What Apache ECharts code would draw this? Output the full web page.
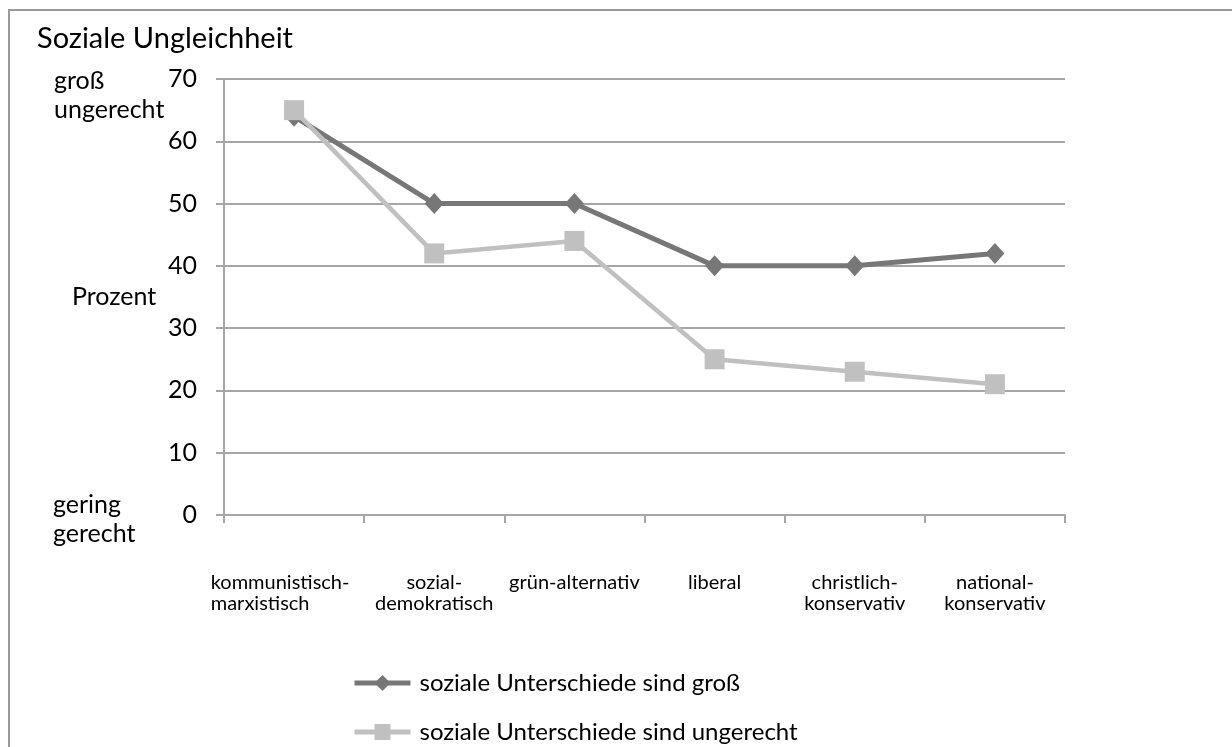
<!DOCTYPE html>
<html>
<head>
<meta charset="utf-8">
<script src="https://cdn.jsdelivr.net/npm/echarts@6/dist/echarts.min.js"></script>
<style>
html,body{margin:0;padding:0;background:#fff;}
#c{width:1232px;height:747px;}
</style>
</head>
<body>
<div id="c"></div>
<script>
const categories = ['kommunistisch-\nmarxistisch','sozial-\ndemokratisch','grün-alternativ','liberal','christlich-\nkonservativ','national-\nkonservativ'];
const seriesNames = ['soziale Unterschiede sind groß','soziale Unterschiede sind ungerecht'];
const grossValues = [64, 50, 50, 40, 40, 42];
const ungerechtValues = [65, 42, 44, 25, 23, 21];
const yTicks = [0, 10, 20, 30, 40, 50, 60, 70];

const FONT = 'Lato, "Open Sans", sans-serif';
const legendBase = {
  orient: 'horizontal',
  left: 352,
  padding: 0,
  itemWidth: 56,
  itemHeight: 20,
  lineStyle: {width: 5},
  textStyle: {fontSize: 24, color: '#000', fontFamily: FONT, padding: [0, 0, 0, 4]}
};
const chart = echarts.init(document.getElementById('c'));
chart.setOption({
  backgroundColor: '#fff',
  animation: false,
  textStyle: {fontFamily: FONT},
  grid: {left: 224, right: 167, top: 79, bottom: 232},
  graphic: [
    {type: 'rect', shape: {x: 9, y: 10, width: 1400, height: 1000}, style: {fill: 'none', stroke: '#9a9a9a', lineWidth: 2}, silent: true},
    {type: 'text', left: 37, top: 24, style: {text: 'Soziale Ungleichheit', font: '29px ' + FONT, fill: '#000'}},
    {type: 'text', left: 54, top: 66, style: {text: 'groß\nungerecht', font: '25px ' + FONT, lineHeight: 29, fill: '#000'}},
    {type: 'text', left: 72, top: 284, style: {text: 'Prozent', font: '25px ' + FONT, fill: '#000'}},
    {type: 'text', left: 53, top: 490, style: {text: 'gering\ngerecht', font: '25px ' + FONT, lineHeight: 29, fill: '#000'}}
  ],
  legend: [
    Object.assign({}, legendBase, {top: 671, data: [seriesNames[0]]}),
    Object.assign({}, legendBase, {top: 720, data: [seriesNames[1]]})
  ],
  xAxis: {
    type: 'category',
    data: categories,
    boundaryGap: true,
    axisLine: {lineStyle: {color: '#a6a6a6', width: 2}},
    axisTick: {show: true, length: 8, lineStyle: {color: '#a6a6a6', width: 2}},
    axisLabel: {
      margin: 57,
      fontSize: 20,
      lineHeight: 21,
      color: '#000',
      interval: 0,
      verticalAlign: 'top',
      formatter: function (v, i) {
        if (i === 0) return '{a|' + v.split('\n').join('}\n{a|') + '}';
        return v;
      },
      rich: {a: {align: 'left', fontSize: 20, lineHeight: 21, color: '#000', padding: [0, 28, 0, 0]}}
    }
  },
  yAxis: {
    type: 'value',
    min: 0,
    max: 70,
    interval: 10,
    axisLine: {show: true, lineStyle: {color: '#a6a6a6', width: 2}},
    axisTick: {show: true, length: 8, lineStyle: {color: '#a6a6a6', width: 2}},
    splitLine: {lineStyle: {color: '#a6a6a6', width: 2}},
    axisLabel: {
      fontSize: 25,
      color: '#000',
      margin: 27,
      formatter: function (v) { return yTicks.indexOf(v) >= 0 ? String(v) : ''; }
    }
  },
  series: [
    {
      name: seriesNames[0],
      type: 'line',
      data: grossValues,
      symbol: 'diamond',
      symbolSize: [19, 21],
      itemStyle: {color: '#777777'},
      lineStyle: {color: '#777777', width: 5},
      z: 2
    },
    {
      name: seriesNames[1],
      type: 'line',
      data: ungerechtValues,
      symbol: 'rect',
      symbolSize: 20,
      itemStyle: {color: '#c0c0c0'},
      lineStyle: {color: '#c0c0c0', width: 4.5},
      z: 3
    }
  ]
});
</script>
</body>
</html>
